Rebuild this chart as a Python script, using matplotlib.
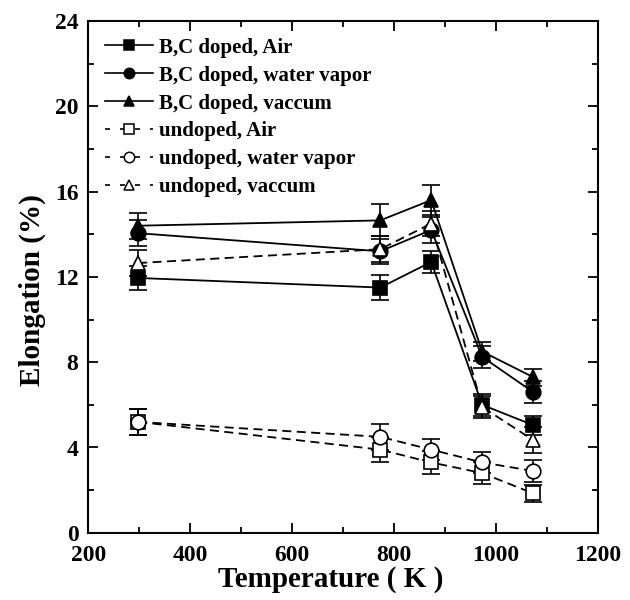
import matplotlib
matplotlib.use("Agg")
import matplotlib.pyplot as plt
from matplotlib.ticker import MultipleLocator
from matplotlib.lines import Line2D

plt.rcParams['font.family'] = ['Liberation Serif', 'DejaVu Serif']
plt.rcParams['font.weight'] = 'bold'

temperature = [298, 773, 873, 973, 1073]

doped_air = [11.95, 11.5, 12.7, 6.0, 5.05]
doped_water = [14.05, 13.2, 14.2, 8.25, 6.6]
doped_vac = [14.4, 14.65, 15.6, 8.5, 7.3]
undoped_air = [5.2, 3.9, 3.3, 2.8, 1.85]
undoped_water = [5.2, 4.5, 3.9, 3.3, 2.9]
undoped_vac = [12.65, 13.3, 14.5, 5.9, 4.35]

err_doped_air = [0.55, 0.6, 0.5, 0.5, 0.45]
err_doped_water = [0.6, 0.6, 0.6, 0.5, 0.5]
err_doped_vac = [0.6, 0.75, 0.7, 0.45, 0.4]
err_undoped_air = [0.6, 0.6, 0.55, 0.5, 0.4]
err_undoped_water = [0.6, 0.6, 0.5, 0.5, 0.5]
err_undoped_vac = [0.6, 0.6, 0.6, 0.5, 0.6]

labels = ["B,C doped, Air", "B,C doped, water vapor", "B,C doped, vaccum",
          "undoped, Air", "undoped, water vapor", "undoped, vaccum"]

series = [
    (doped_air, err_doped_air, 's', 'black', '-'),
    (doped_water, err_doped_water, 'o', 'black', '-'),
    (doped_vac, err_doped_vac, '^', 'black', '-'),
    (undoped_air, err_undoped_air, 's', 'white', '--'),
    (undoped_water, err_undoped_water, 'o', 'white', '--'),
    (undoped_vac, err_undoped_vac, '^', 'white', '--'),
]

fig = plt.figure(figsize=(6.3, 6.0), dpi=100)
ax = fig.add_axes([0.140, 0.112, 0.809, 0.853])

handles = []
for (vals, errs, mk, fc, ls), lab in zip(series, labels):
    dash = (5, 3) if ls == '--' else (None, None)
    ax.errorbar(temperature, vals, yerr=errs, marker=mk, markersize=10.5,
                markerfacecolor=fc, markeredgecolor='black', markeredgewidth=1.2,
                color='black', linestyle=ls, linewidth=1.3, dashes=dash,
                capsize=6.5, capthick=1.2, elinewidth=1.2, ecolor='black')
    h = Line2D([], [], marker=mk, markersize=7.5, markerfacecolor=fc,
               markeredgecolor='black', markeredgewidth=1.1, color='black',
               linestyle=ls, linewidth=1.2)
    if ls == '--':
        h.set_dashes((3, 6))
    handles.append(h)

ax.set_xlim(200, 1200)
ax.set_ylim(0, 24)
ax.xaxis.set_major_locator(MultipleLocator(200))
ax.xaxis.set_minor_locator(MultipleLocator(100))
ax.yaxis.set_major_locator(MultipleLocator(4))
ax.yaxis.set_minor_locator(MultipleLocator(2))
ax.tick_params(which='both', direction='in', top=True, right=True, width=1.3)
ax.tick_params(which='major', length=7, labelsize=17)
ax.tick_params(axis='x', which='major', pad=9)
ax.tick_params(axis='y', which='major', pad=7)
ax.tick_params(which='minor', length=4)
for lab in ax.get_xticklabels() + ax.get_yticklabels():
    lab.set_fontweight('bold')
for sp in ax.spines.values():
    sp.set_linewidth(1.5)

ax.set_xlabel("Temperature ( K )", fontsize=21, fontweight='bold')
ax.set_ylabel("Elongation (%)", fontsize=21, fontweight='bold')
ax.xaxis.set_label_coords(0.475, -0.064)
ax.yaxis.set_label_coords(-0.082, 0.475)

ax.legend(handles, labels, loc='upper left', frameon=False,
          prop={'weight': 'bold', 'size': 15},
          handlelength=2.3, handletextpad=0.3, labelspacing=0.38,
          borderaxespad=0.4, borderpad=0.4)

fig.savefig("out.png", dpi=100)
